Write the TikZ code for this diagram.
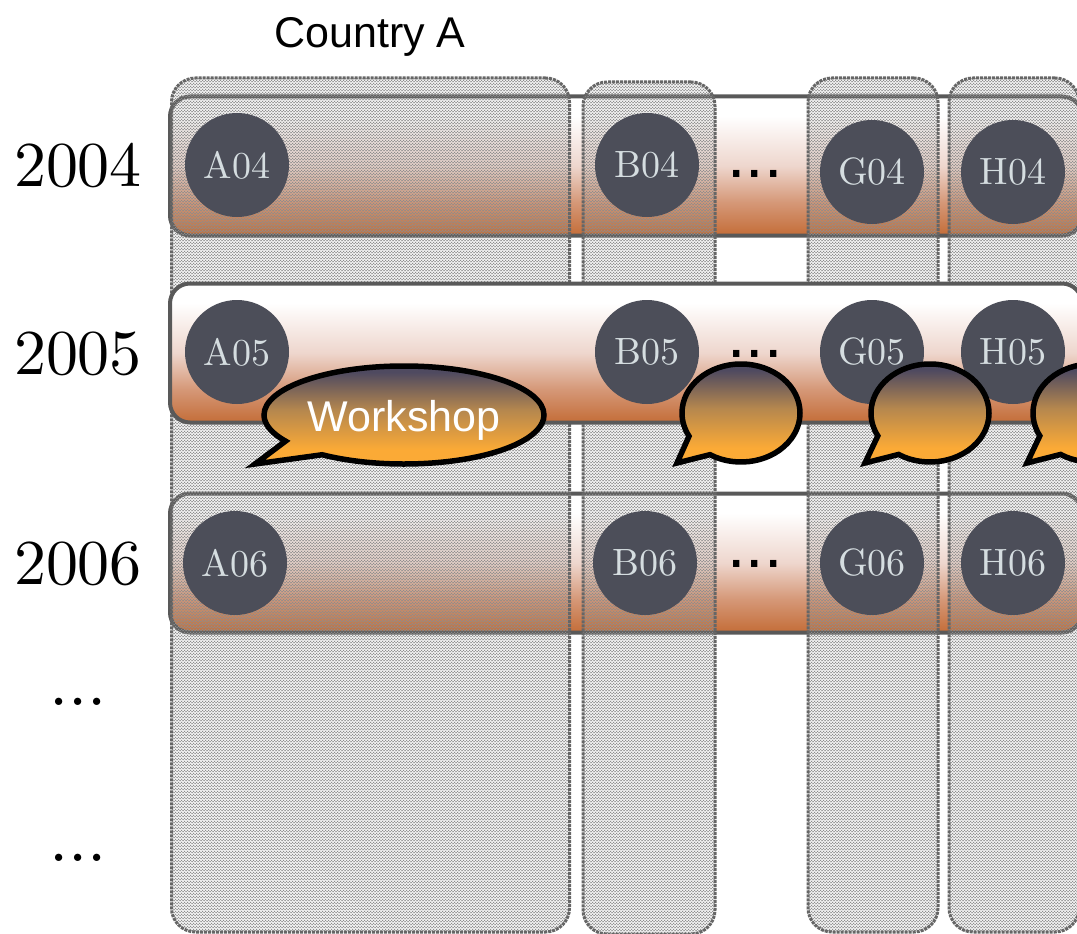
\documentclass[tikz,border=0pt]{standalone}
\usepackage{fontspec}
\usetikzlibrary{patterns,shapes.callouts}
\newfontfamily\sansfont{Liberation Sans}
\definecolor{barorange}{HTML}{C46D38}
\definecolor{barmid}{HTML}{EED6CD}
\definecolor{barlow}{HTML}{D59878}
\definecolor{chipgray}{HTML}{4C4E59}
\definecolor{chiptext}{HTML}{D5DDE0}
\definecolor{bubbletop}{HTML}{4F4A60}
\definecolor{bubblemid}{HTML}{B5874E}
\definecolor{bubblelow}{HTML}{FBAA36}
\pgfdeclareverticalshading{rowshade}{100bp}{color(0bp)=(barorange); color(25bp)=(barorange); color(37bp)=(barlow); color(50bp)=(barmid); color(68bp)=(white); color(100bp)=(white)}
\pgfdeclareverticalshading{bubbleshade}{100bp}{color(0bp)=(bubblelow); color(35bp)=(bubblelow); color(54bp)=(bubblemid); color(72bp)=(bubbletop); color(100bp)=(bubbletop)}
\tikzset{
every picture/.style={
line width=1pt
}}

\begin{document}
\begin{tikzpicture}[x=1pt, y=-1pt,
rowbar/.style = {rectangle, draw=black!65, line width=4pt, rounded corners=20pt, shading=rowshade, minimum width=912pt, minimum height=139pt, inner sep=0pt},
colbar/.style = {rectangle, draw=black!60, densely dotted, line width=3pt, rounded corners=24pt, pattern=crosshatch, pattern color=black!45, inner sep=0pt},
chip/.style = {circle, fill=chipgray, minimum size=104pt, inner sep=0pt},
chiplabel/.style = {text=chiptext, scale=3.8},
year/.style = {scale=6.4},
gap/.style = {scale=6.9},
middots/.style = {font=\sansfont\fontsize{66}{66}\selectfont},
bubble/.style = {ellipse callout, draw=black, line width=5.5pt, shading=bubbleshade, inner sep=0pt, minimum height=98pt},
bubbletext/.style = {text=white, font=\sansfont\fontsize{43}{43}\selectfont}]
\useasboundingbox (0,0) rectangle (1077,934);
\clip (0,0) rectangle (1077,934);

\node[font=\sansfont\fontsize{43}{43}\selectfont] at (370,37) (title) {Country A};

\node[year] at (78,166) (y04) {2004};
\node[year] at (78,354) (y05) {2005};
\node[year] at (78,564) (y06) {2006};
\node[gap] at (78,702) (y07) {...};
\node[gap] at (78,858) (y08) {...};

\node[rowbar] at (626,166) (r04) {};
\node[rowbar] at (626,563) (r06) {};

\node[colbar, minimum width=398pt, minimum height=854pt] at (370.5,505) (ca) {};
\node[colbar, minimum width=132pt, minimum height=852pt] at (649,508) (cb) {};
\node[colbar, minimum width=130pt, minimum height=854pt] at (873,505) (cg) {};
\node[colbar, minimum width=130pt, minimum height=854pt] at (1014,505) (ch) {};

\node[rowbar] at (626,353) (r05) {};

\foreach \name/\x/\y in {A04/237/165, B04/647/165, G04/872/172, H04/1013/172,
  A05/237/352, B05/647/352, G05/872/352, H05/1013/352,
  A06/235/563, B06/645/563, G06/872/563, H06/1013/563}
{
  \node[chip] at (\x,\y) (\name) {};
  \node[chiplabel] at (\name) (l\name) {\name};
}

\node[middots] at (755,174) (d04) {...};
\node[middots] at (755,354) (d05) {...};
\node[middots] at (755,564) (d06) {...};

\coordinate (tw) at (255,464);
\coordinate (tb) at (677,463);
\coordinate (tg) at (865,463);
\coordinate (th) at (1027,463);
\node[bubble, minimum width=280pt, callout pointer arc=22, callout absolute pointer={(tw)}] at (404,415) (bw) {};
\node[bubbletext] at (404,420) (lbw) {Workshop};
\node[bubble, minimum width=118pt, callout pointer arc=30, callout absolute pointer={(tb)}] at (741,413) (bb) {};
\node[bubble, minimum width=118pt, callout pointer arc=30, callout absolute pointer={(tg)}] at (930,413) (bg) {};
\node[bubble, minimum width=118pt, callout pointer arc=30, callout absolute pointer={(th)}] at (1092,413) (bh) {};

\end{tikzpicture}
\end{document}
